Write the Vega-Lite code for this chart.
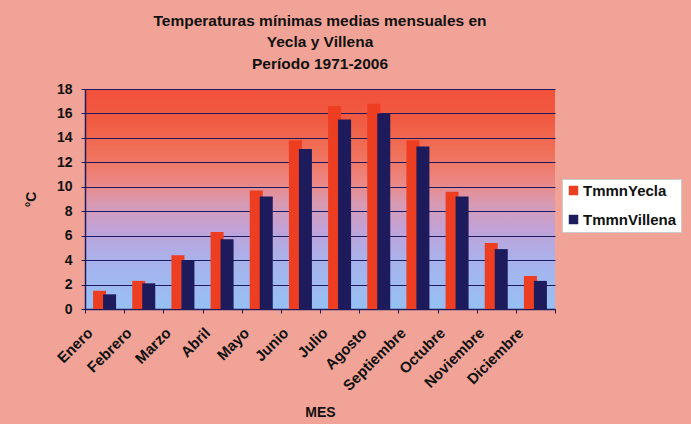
{
  "$schema": "https://vega.github.io/schema/vega-lite/v6.json",
  "autosize": {"type": "none"},
  "width": 470,
  "height": 220,
  "padding": {"left": 85, "top": 89, "right": 136, "bottom": 115},
  "background": "#f1a397",
  "title": {
    "text": ["Temperaturas mínimas medias mensuales en", "Yecla y Villena", "Período 1971-2006"],
    "font": "Liberation Sans",
    "fontSize": 15.5,
    "fontWeight": "bold",
    "color": "#111111",
    "lineHeight": 21.5,
    "anchor": "middle",
    "offset": 10
  },
  "data": {
    "values": [
      {"MES": "Enero", "serie": "TmmnYecla", "valor": 1.5},
      {"MES": "Febrero", "serie": "TmmnYecla", "valor": 2.3},
      {"MES": "Marzo", "serie": "TmmnYecla", "valor": 4.4},
      {"MES": "Abril", "serie": "TmmnYecla", "valor": 6.3},
      {"MES": "Mayo", "serie": "TmmnYecla", "valor": 9.7},
      {"MES": "Junio", "serie": "TmmnYecla", "valor": 13.8},
      {"MES": "Julio", "serie": "TmmnYecla", "valor": 16.6},
      {"MES": "Agosto", "serie": "TmmnYecla", "valor": 16.8},
      {"MES": "Septiembre", "serie": "TmmnYecla", "valor": 13.8},
      {"MES": "Octubre", "serie": "TmmnYecla", "valor": 9.6},
      {"MES": "Noviembre", "serie": "TmmnYecla", "valor": 5.4},
      {"MES": "Diciembre", "serie": "TmmnYecla", "valor": 2.7},
      {"MES": "Enero", "serie": "TmmnVillena", "valor": 1.2},
      {"MES": "Febrero", "serie": "TmmnVillena", "valor": 2.1},
      {"MES": "Marzo", "serie": "TmmnVillena", "valor": 4.0},
      {"MES": "Abril", "serie": "TmmnVillena", "valor": 5.7},
      {"MES": "Mayo", "serie": "TmmnVillena", "valor": 9.2},
      {"MES": "Junio", "serie": "TmmnVillena", "valor": 13.1},
      {"MES": "Julio", "serie": "TmmnVillena", "valor": 15.5},
      {"MES": "Agosto", "serie": "TmmnVillena", "valor": 16.0},
      {"MES": "Septiembre", "serie": "TmmnVillena", "valor": 13.3},
      {"MES": "Octubre", "serie": "TmmnVillena", "valor": 9.2},
      {"MES": "Noviembre", "serie": "TmmnVillena", "valor": 4.9},
      {"MES": "Diciembre", "serie": "TmmnVillena", "valor": 2.3}
    ]
  },
  "mark": {
    "type": "bar",
    "width": 13,
    "xOffset": {"expr": "datum.serie === 'TmmnYecla' ? -5 : 5"}
  },
  "encoding": {
    "x": {
      "field": "MES",
      "type": "nominal",
      "sort": ["Enero", "Febrero", "Marzo", "Abril", "Mayo", "Junio", "Julio", "Agosto", "Septiembre", "Octubre", "Noviembre", "Diciembre"],
      "scale": {"paddingInner": 0, "paddingOuter": 0},
      "axis": {
        "title": "MES",
        "labelAngle": -45,
        "labelAlign": "right",
        "labelBaseline": "middle",
        "labelFontSize": 15,
        "labelPadding": 17,
        "labelOffset": -15,
        "labelLimit": 200,
        "tickBand": "extent",
        "tickSize": 4,
        "titlePadding": 12,
        "grid": false
      }
    },
    "y": {
      "field": "valor",
      "type": "quantitative",
      "stack": null,
      "scale": {"domain": [0, 18], "nice": false},
      "axis": {
        "title": "°C",
        "values": [0, 2, 4, 6, 8, 10, 12, 14, 16, 18],
        "tickSize": 4,
        "labelPadding": 9,
        "titlePadding": 18,
        "grid": true
      }
    },
    "color": {
      "field": "serie",
      "type": "nominal",
      "sort": ["TmmnYecla", "TmmnVillena"],
      "scale": {"domain": ["TmmnYecla", "TmmnVillena"], "range": ["#ee3e22", "#1e1b5c"]},
      "legend": {
        "title": null,
        "orient": "none",
        "legendX": 477,
        "legendY": 90,
        "fillColor": "#ffffff",
        "strokeColor": "#cccccc",
        "padding": 4,
        "symbolType": "square",
        "symbolSize": 90,
        "symbolStrokeWidth": 0,
        "labelFontSize": 15,
        "labelFont": "Liberation Sans",
        "labelFontWeight": "bold",
        "labelColor": "#111111",
        "labelOffset": 2,
        "rowPadding": 13,
        "labelLimit": 200
      }
    }
  },
  "config": {
    "view": {
      "stroke": null,
      "fill": {
        "gradient": "linear",
        "x1": 0, "y1": 0, "x2": 0, "y2": 1,
        "stops": [
          {"offset": 0, "color": "#f2503a"},
          {"offset": 0.15, "color": "#f05c42"},
          {"offset": 0.3, "color": "#f0725c"},
          {"offset": 0.42, "color": "#ec8682"},
          {"offset": 0.52, "color": "#d89ab2"},
          {"offset": 0.64, "color": "#c0a2d8"},
          {"offset": 0.78, "color": "#a8b2ec"},
          {"offset": 1, "color": "#96c0f4"}
        ]
      }
    },
    "axis": {
      "labelFont": "Liberation Sans",
      "labelFontWeight": "bold",
      "labelFontSize": 14,
      "labelColor": "#111111",
      "titleFont": "Liberation Sans",
      "titleFontWeight": "bold",
      "titleFontSize": 14,
      "titleColor": "#111111",
      "domainColor": "#1e1b5c",
      "domainWidth": 1.5,
      "tickColor": "#1e1b5c",
      "gridColor": "#1c1a60",
      "gridWidth": 1,
      "gridOpacity": 1
    }
  }
}
